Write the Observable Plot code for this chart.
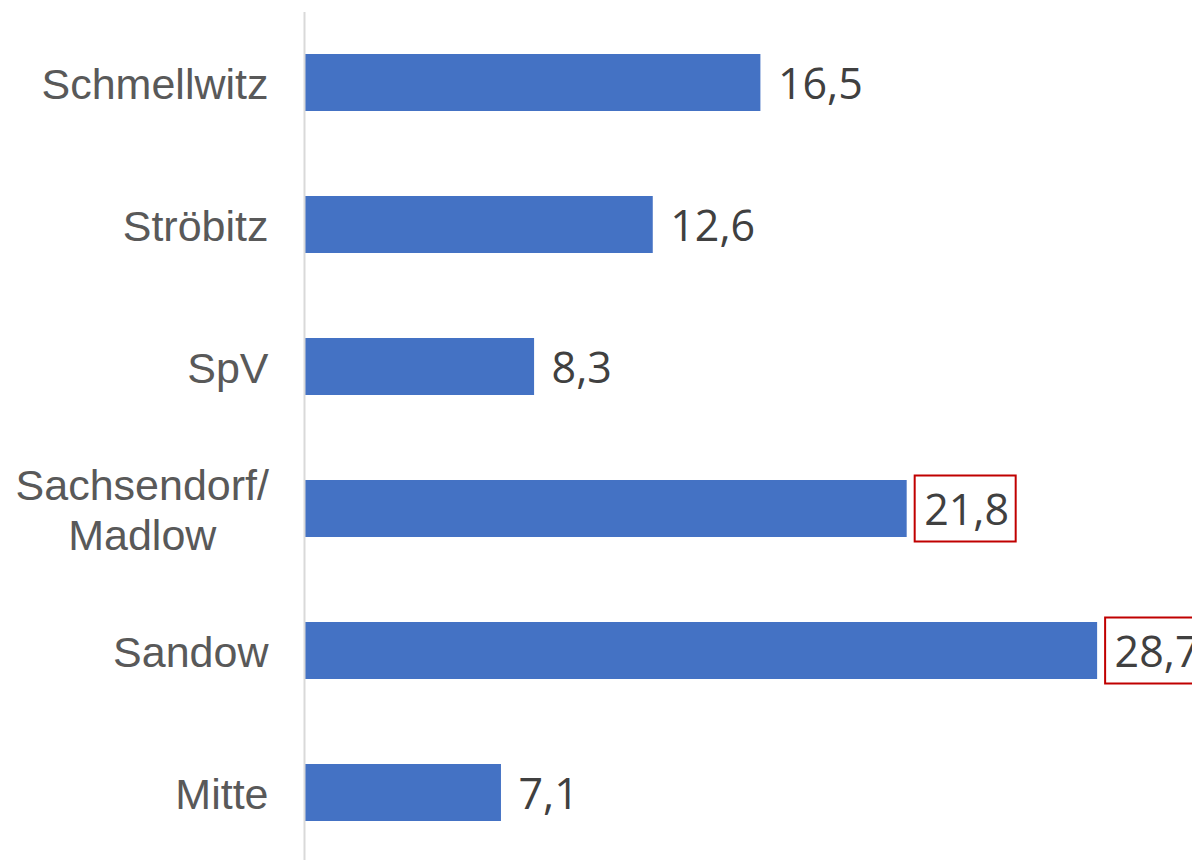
<!DOCTYPE html>
<html>
<head>
<meta charset="utf-8">
<script src="https://cdn.jsdelivr.net/npm/d3@7"></script>
<script src="https://cdn.jsdelivr.net/npm/@observablehq/plot@0.6"></script>
<style>
  html, body { margin: 0; padding: 0; background: #fff; overflow: hidden; }
  #chart svg { display: block; }
</style>
</head>
<body>
<div id="chart"></div>
<script>
const categories = ["Schmellwitz", "Ströbitz", "SpV", "Sachsendorf/\nMadlow", "Sandow", "Mitte"];
const values = [16.5, 12.6, 8.3, 21.8, 28.7, 7.1];
const highlighted = ["Sachsendorf/\nMadlow", "Sandow"];

const data = categories.map((c, i) => ({category: c, value: values[i]}));
const fmt = v => v.toFixed(1).replace(".", ",");

const chart = Plot.plot({
  width: 1192,
  height: 860,
  marginTop: 12,
  marginBottom: 0,
  marginLeft: 304,
  marginRight: 0,
  style: {background: "#fff", overflow: "hidden"},
  x: {domain: [0, 30], range: [305, 305 + 30 * 27.6], axis: null},
  y: {domain: categories, range: [10, 865], paddingInner: 0.6, paddingOuter: 0.3, axis: null},
  marks: [
    Plot.barX(data, {x: "value", y: "category", fill: "#4472c4"}),
    Plot.ruleX([0], {stroke: "#d9d9d9", strokeWidth: 2, dx: -1}),
    Plot.text(categories, {
      x: 0, y: d => d, text: d => d, textAnchor: "end", dx: -37,
      fill: "#595959", fontSize: 43, lineHeight: 1.15,
      fontFamily: "Liberation Sans, Arial, sans-serif"
    }),
    Plot.rect(data.filter(d => highlighted.includes(d.category)), {
      x1: "value", x2: "value", y: "category",
      insetLeft: 8, insetRight: -109, insetTop: -4.5, insetBottom: -4.5,
      fill: "none", stroke: "#c00000", strokeWidth: 2
    }),
    Plot.text(data, {
      x: "value", y: "category", text: d => fmt(d.value), textAnchor: "start", dx: 17, dy: 2,
      fill: "#404040", fontSize: 43, fontFamily: "Open Sans, sans-serif"
    })
  ]
});
document.getElementById("chart").append(chart);

// Center-align the lines of multi-line category labels (right edge kept in place)
chart.querySelectorAll("text").forEach(t => {
  const spans = Array.from(t.querySelectorAll("tspan"));
  if (spans.length > 1) {
    const bb = t.getBBox();
    const cx = bb.x + bb.width / 2;
    t.style.textAnchor = "middle";
    spans.forEach(s => { s.setAttribute("x", cx); s.style.textAnchor = "middle"; });
  }
});
</script>
</body>
</html>
